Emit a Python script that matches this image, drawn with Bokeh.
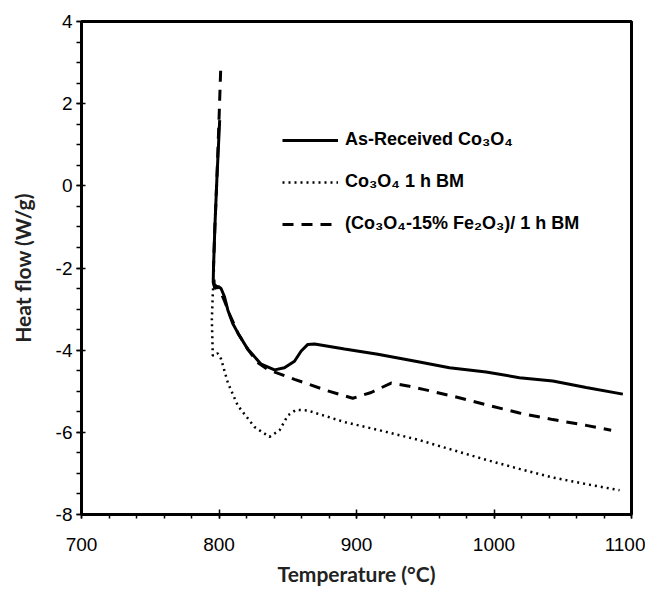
from bokeh.plotting import figure
from bokeh.models import Range1d, FixedTicker, Legend, LegendItem
from bokeh.embed import file_html
from bokeh.resources import INLINE

# As-Received Co3O4 (solid)
solid_x = [800.5, 798.5, 797.0, 796.0, 795.8, 797.0, 799.5, 801.5, 804.0, 806.4, 810.0, 813.7,
           821.0, 830.7, 840.4, 847.6, 854.9, 859.8, 864.6, 869.5, 891.3, 915.5, 945.8,
           967.6, 994.3, 1018.5, 1042.8, 1067.0, 1093.7]
solid_y = [1.6, 0.2, -1.0, -2.0, -2.35, -2.5, -2.45, -2.5, -2.70, -3.02, -3.35, -3.58,
           -3.98, -4.34, -4.48, -4.43, -4.27, -4.02, -3.86, -3.85, -3.97, -4.10, -4.29,
           -4.43, -4.53, -4.67, -4.75, -4.91, -5.07]

# Co3O4 1 h BM (dotted)
dotted_x = [796.0, 795.5, 794.8, 795.5, 799.1, 801.6, 806.4, 813.7, 825.8, 836.7, 844.0,
            850.0, 856.1, 864.6, 891.3, 915.5, 945.8, 970.0, 994.3, 1018.5, 1042.8,
            1067.0, 1091.3]
dotted_y = [-2.35, -2.62, -3.26, -4.14, -4.08, -4.22, -4.79, -5.35, -5.87, -6.11, -5.95,
            -5.59, -5.45, -5.47, -5.75, -5.94, -6.19, -6.43, -6.67, -6.89, -7.10,
            -7.26, -7.41]

# (Co3O4-15% Fe2O3)/ 1 h BM (dashed)
dashed_x = [801.2, 800.0, 798.5, 797.0, 796.0, 796.5, 800.0, 804.0, 808.0, 814.0, 821.0,
            828.0, 835.5, 854.9, 879.1, 897.3, 910.7, 925.2, 937.3, 949.5, 970.0,
            994.3, 1018.5, 1042.8, 1067.0, 1085.2]
dashed_y = [2.8, 1.6, 0.2, -1.0, -2.0, -2.4, -2.5, -2.8, -3.15, -3.6, -3.98,
            -4.3, -4.47, -4.71, -4.99, -5.17, -5.03, -4.80, -4.87, -4.96, -5.12,
            -5.33, -5.53, -5.69, -5.83, -5.95]

x_ticks = [700, 800, 900, 1000, 1100]
y_ticks = [-8, -6, -4, -2, 0, 2, 4]
y_tick_labels = ["-8", "-6", "-4", "-2", "0", "2", "4"]

labels = ["As-Received Co₃O₄", "Co₃O₄ 1 h BM", "(Co₃O₄-15% Fe₂O₃)/ 1 h BM"]

p = figure(width=645, height=588, output_backend="svg", toolbar_location=None,
           x_range=Range1d(700, 1100), y_range=Range1d(-8, 4),
           min_border_left=81, min_border_right=14, min_border_top=21, min_border_bottom=69)

p.xgrid.visible = False
p.ygrid.visible = False
p.outline_line_color = "black"
p.outline_line_width = 3
p.background_fill_color = "white"
p.border_fill_color = "white"

r1 = p.line(solid_x, solid_y, line_color="black", line_width=3)
r2 = p.line(dotted_x, dotted_y, line_color="black", line_width=2.5, line_dash="2 4")
r3 = p.line(dashed_x, dashed_y, line_color="black", line_width=3, line_dash="11 8")

for ax in (p.xaxis[0], p.yaxis[0]):
    ax.axis_line_width = 3
    ax.axis_line_color = "black"
    ax.major_tick_line_color = "black"
    ax.minor_tick_line_color = "black"
    ax.major_tick_line_width = 1.5
    ax.minor_tick_line_width = 1.5
    ax.major_label_text_font = "Liberation Sans"
    ax.major_label_text_font_size = "19px"
    ax.major_label_text_color = "black"
    ax.axis_label_text_font = "Lato"
    ax.axis_label_text_font_style = "bold"
    ax.axis_label_text_font_size = "21px"
    ax.axis_label_text_color = "#222222"

p.xaxis.ticker = FixedTicker(ticks=x_ticks, minor_ticks=list(range(700, 1101, 20)))
p.yaxis.ticker = FixedTicker(ticks=y_ticks, minor_ticks=[v / 2 for v in range(-16, 9)])
p.yaxis.major_label_overrides = {t: s for t, s in zip(y_ticks, y_tick_labels)}

p.xaxis.major_tick_in = 5
p.xaxis.major_tick_out = 4
p.xaxis.minor_tick_in = 0
p.xaxis.minor_tick_out = 4
p.xaxis.major_label_standoff = 19
p.xaxis.axis_label = "Temperature (°C)"
p.xaxis.axis_label_standoff = 7

p.yaxis.major_tick_in = 4
p.yaxis.major_tick_out = 5
p.yaxis.minor_tick_in = 0
p.yaxis.minor_tick_out = 5
p.yaxis.major_label_standoff = 4
p.yaxis.axis_label = "Heat flow (W/g)"
p.yaxis.axis_label_standoff = 18

legend = Legend(items=[LegendItem(label=labels[0], renderers=[r1]),
                       LegendItem(label=labels[1], renderers=[r2]),
                       LegendItem(label=labels[2], renderers=[r3])],
                location=(201, 280))
legend.border_line_alpha = 0
legend.background_fill_alpha = 0
legend.padding = 0
legend.margin = 0
legend.glyph_width = 56
legend.glyph_height = 20
legend.label_height = 20
legend.label_standoff = 7
legend.spacing = 21
legend.label_text_font = "Liberation Sans"
legend.label_text_font_style = "bold"
legend.label_text_font_size = "18px"
legend.label_text_color = "black"
p.add_layout(legend, "center")

open("out.html", "w").write(file_html(p, INLINE))
